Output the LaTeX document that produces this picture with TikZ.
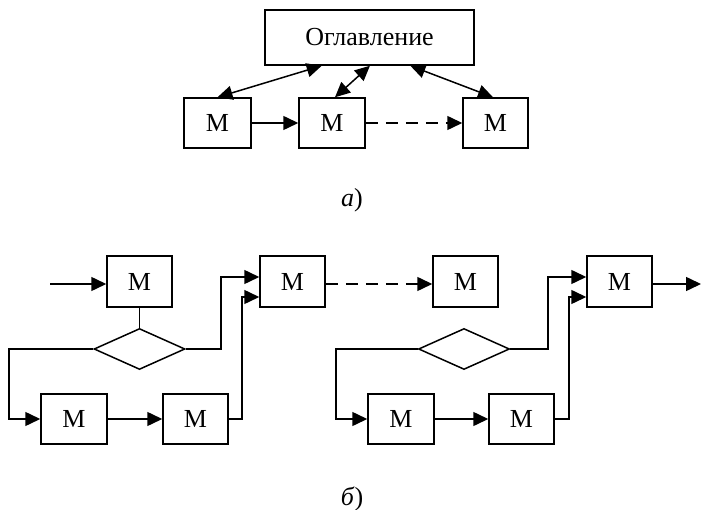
\documentclass[tikz,border=0pt]{standalone}
\usepackage{fontspec}
\setmainfont{Liberation Serif}
\usetikzlibrary{arrows.meta,shapes.geometric,calc}
\tikzset{
  box/.style={draw,line width=1.5pt,inner sep=0pt,font=\fontsize{26}{26}\selectfont},
  dia/.style={draw,line width=1.5pt,shape=diamond,inner sep=0pt,minimum width=91pt,minimum height=41pt,aspect=2.2},
  conn/.style={line width=1.5pt},
  arr/.style={conn,-{Triangle[length=15pt,width=14pt]}},
  darr/.style={conn,{Triangle[length=15pt,width=14pt]}-{Triangle[length=15pt,width=14pt]}},
  dsh/.style={arr,dash pattern=on 12pt off 8pt},
  lbl/.style={font=\fontsize{26}{26}\selectfont}
}
\begin{document}
\begin{tikzpicture}[x=1pt,y=-1pt]
\useasboundingbox (0,0) rectangle (701,510);
% part a
\node[box,minimum width=209pt,minimum height=55pt] (og) at (369.5,37.5) {Оглавление};
\node[box,minimum width=67pt,minimum height=50pt] (t1) at (217.5,123) {М};
\node[box,minimum width=66pt,minimum height=50pt] (t2) at (332,123) {М};
\node[box,minimum width=65pt,minimum height=50pt] (t3) at (495.5,123) {М};
\draw[darr] (t1.north) -- ($(og.south west)!0.273!(og.south east)$);
\draw[darr] ($(t2.north)+(3,0)$) -- ($(og.south west)!0.502!(og.south east)$);
\draw[darr] ($(og.south west)!0.694!(og.south east)$) -- ($(t3.north)+(-2.5,0)$);
\draw[arr] (t1) -- (t2);
\draw[dsh] (t2) -- (t3);
\node[lbl] (la) at (352,200) {\textit{а})};
% part b, left
\coordinate (in0) at (50,284);
\node[box,minimum width=65pt,minimum height=51pt] (a0) at (139.5,281.5) {М};
\node[dia] (d1) at (139.5,349) {};
\node[box,minimum width=66pt,minimum height=50pt] (a1) at (74,419) {М};
\node[box,minimum width=65pt,minimum height=50pt] (a2) at (195.5,419) {М};
\node[box,minimum width=65pt,minimum height=51pt] (a3) at (292.5,281.5) {М};
\node[box,minimum width=65pt,minimum height=51pt] (a4) at (465.5,281.5) {М};
\draw[arr] (in0) -- (in0 -| a0.west);
\draw[conn] (a0.south) -- (d1.north);
\draw[arr] (d1.west) -- (9,349) |- (a1.west);
\draw[arr] (a1) -- (a2);
\draw[arr] (d1.east) -- (221,349) |- ($(a3.west)+(0,-4.5)$);
\draw[arr] (a2.east) -- (242,419) |- ($(a3.west)+(0,15.5)$);
\draw[dsh] ($(a3.east)+(0,2.5)$) -- ($(a4.west)+(0,2.5)$);
% part b, right
\node[dia] (d2) at (464,349) {};
\node[box,minimum width=66pt,minimum height=50pt] (b1) at (401,419) {М};
\node[box,minimum width=65pt,minimum height=50pt] (b2) at (521.5,419) {М};
\node[box,minimum width=65pt,minimum height=51pt] (b3) at (619.5,281.5) {М};
\coordinate (out) at (701,284);
\draw[arr] (d2.west) -- (336,349) |- (b1.west);
\draw[arr] (b1) -- (b2);
\draw[arr] (d2.east) -- (548,349) |- ($(b3.west)+(0,-4.5)$);
\draw[arr] (b2.east) -- (569,419) |- ($(b3.west)+(0,15.5)$);
\draw[arr] (out -| b3.east) -- (out);
\node[lbl] (lb) at (352,499) {\textit{б})};
\end{tikzpicture}
\end{document}
